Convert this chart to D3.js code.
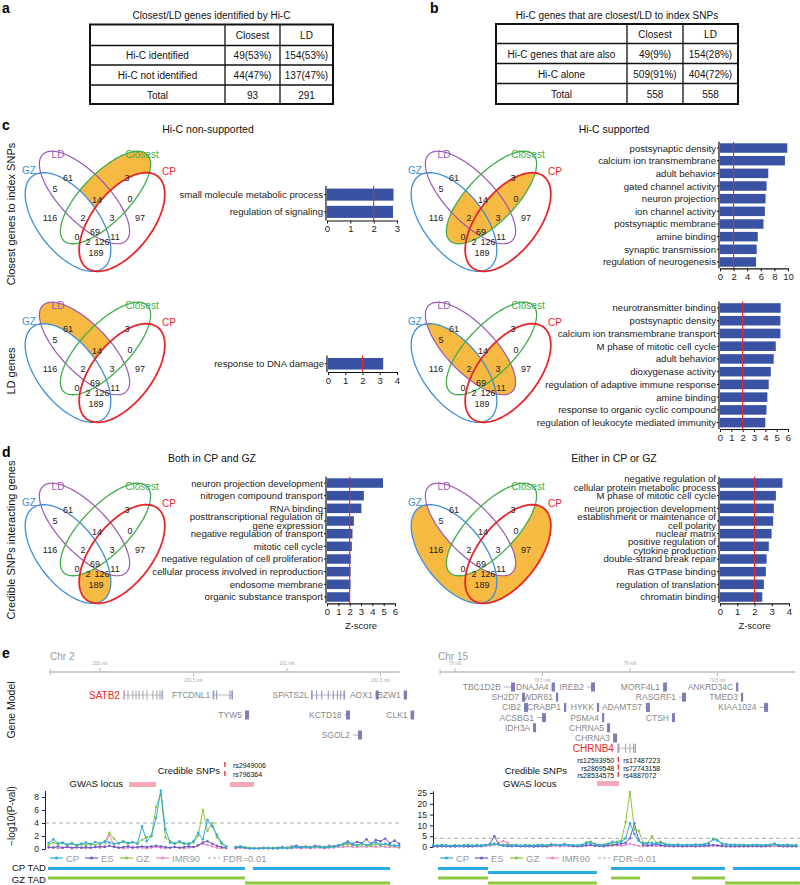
<!DOCTYPE html>
<html><head><meta charset="utf-8">
<script src="https://cdn.jsdelivr.net/npm/d3@7/dist/d3.min.js"></script>
<style>
html,body{margin:0;padding:0;background:#fff;}
svg text{font-family:"Liberation Sans",Arial,Helvetica,sans-serif;}
</style></head><body>
<svg id="fig" width="800" height="885" xmlns="http://www.w3.org/2000/svg"></svg>
<script>
// ================= DATA =================
const tableATitle = "Closest/LD genes identified by Hi-C";
const tableAHeader = ["", "Closest", "LD"];
const tableARows = [["Hi-C identified","49(53%)","154(53%)"],["Hi-C not identified","44(47%)","137(47%)"],["Total","93","291"]];
const tableBTitle = "Hi-C genes that are closest/LD to index SNPs";
const tableBHeader = ["", "Closest", "LD"];
const tableBRows = [["Hi-C genes that are also","49(9%)","154(28%)"],["Hi-C alone","509(91%)","404(72%)"],["Total","558","558"]];

const vennSetNames = ["GZ","LD","Closest","CP"];
const vennCounts = [116,61,3,97,5,14,0,0,2,3,69,2,126,11,189];
// regions: GZ, LD, Closest, CP, GZ&LD, LD&Cl, Cl&CP, GZ&Cl, GZ&LD&Cl, LD&Cl&CP, all, GZ&Cl&CP, GZ&LD&CP, LD&CP, GZ&CP

const barC1Labels = ["small molecule metabolic process","regulation of signaling"];
const barC1Values = [2.85, 2.83];
const barC2Labels = ["postsynaptic density","calcium ion transmembrane","adult behavior","gated channel activity","neuron projection","ion channel activity","postsynaptic membrane","amine binding","synaptic transmission","regulation of neurogenesis"];
const barC2Values = [9.9,9.55,7.1,6.85,6.7,6.6,6.4,5.55,5.4,5.3];
const barC3Labels = ["response to DNA damage"];
const barC3Values = [3.2];
const barC4Labels = ["neurotransmitter binding","postsynaptic density","calcium ion transmembrane transport","M phase of mitotic cell cycle","adult behavior","dioxygenase activity","regulation of adaptive immune response","amine binding","response to organic cyclic compound","regulation of leukocyte mediated immunity"];
const barC4Values = [5.35,5.33,5.33,4.92,4.74,4.48,4.3,4.18,4.1,4.0];
const barD1Labels = ["neuron projection development","nitrogen compound transport","RNA binding","posttranscriptional regulation of\ngene expression","negative regulation of transport","mitotic cell cycle","negative regulation of cell proliferation","cellular process involved in reproduction","endosome membrane","organic substance transport"];
const barD1Values = [4.94,3.25,3.04,2.37,2.25,2.19,2.1,2.08,2.08,2.02];
const barD2Labels = ["negative regulation of\ncellular protein metabolic process","M phase of mitotic cell cycle","neuron projection development","establishment or maintenance of\ncell polarity","nuclear matrix","positive regulation of\ncytokine production","double-strand break repair","Ras GTPase binding","regulation of translation","chromatin binding"];
const barD2Values = [3.62,3.24,3.12,3.08,2.99,2.83,2.7,2.66,2.54,2.45];
const zThreshold = 2;

// Panel e, left locus (chr2, Mb)
const leftGenes = ["SATB2","FTCDNL1","TYW5","SPATS2L","AOX1","BZW1","KCTD18","CLK1","SGOL2"];
const leftGeneStart = [200.128,200.606,200.775,201.132,201.474,201.624,201.308,201.661,201.353];
const leftGeneEnd   = [200.332,200.706,200.797,201.305,201.49,201.642,201.337,201.68,201.401];
const leftGeneRow   = [0,0,1,0,0,0,1,1,2];
const rightGenes = ["TBC1D2B","DNAJA4","IREB2","MORF4L1","ANKRD34C","SH2D7","WDR61","RASGRF1","TMED3","CIB2","CRABP1","HYKK","ADAMTS7","KIAA1024","ACSBG1","PSMA4","CTSH","IDH3A","CHRNA5","CHRNA3","CHRNB4"];
const rightGeneStart = [78.28,78.552,78.754,79.189,79.606,78.383,78.577,79.28,79.634,78.394,78.623,78.811,79.086,79.74,78.469,78.84,79.24,78.446,78.869,78.903,78.931];
const rightGeneEnd   = [78.343,78.571,78.8,79.211,79.617,78.4,78.589,79.32,79.646,78.417,78.634,78.823,79.114,79.789,78.52,78.851,79.257,78.463,78.886,78.926,79.029];
const rightGeneRow   = [0,0,0,0,0,1,1,1,1,2,2,2,2,2,3,3,3,4,4,5,6];
const highlightGenes = ["SATB2","CHRNB4"];
const geneExons = {
  SATB2:[200.128,200.15,200.176,200.193,200.209,200.23,200.251,200.283,200.305,200.321,200.332],
  FTCDNL1:[200.606,200.624,200.695,200.706],
  SPATS2L:[201.132,201.159,201.186,201.221,201.248,201.27,201.287,201.305],
  CHRNB4:[78.931,78.937,78.975,79.0,79.02,79.029]
};
const leftRulerMajor = [200,201], leftRulerMajorLabels = ["200 mb","201 mb"];
const leftRulerMinor = [200.5,201.5], leftRulerMinorLabels = ["200.5 mb","201.5 mb"];
const rightRulerMajor = [78,79], rightRulerMajorLabels = ["78 mb","79 mb"];
const rightRulerMinor = [78.5,79.5], rightRulerMinorLabels = ["78.5 mb","79.5 mb"];

const leftSNPs = ["rs2949006","rs796364"];
const leftSNPPos = 200.668;
const rightSNPsA = ["rs12593950","rs2869548","rs28534575"];
const rightSNPsB = ["rs17487223","rs72743158","rs4887072"];
const rightSNPPos = 78.933;
const leftGWASStart = [200.155,200.695], leftGWASEnd = [200.299,200.824];
const rightGWASStart = [78.811], rightGWASEnd = [78.937];

const seriesNames = ["CP","ES","GZ","IMR90"];
const fdrLevel = 4;
const leftBinStart = 199.725, leftBinSize = 0.025;
const leftCP = [0.9,1.5,0.9,1.0,0.7,0.9,0.6,0.8,1.0,0.7,1.1,0.8,1.2,1.0,0.8,0.9,1.2,0.9,1.1,0.8,3.5,1.2,2.0,4.8,9.0,3.0,1.0,0.8,1.2,0.9,0.7,1.2,2.5,1.5,4.5,3.5,2.2,1.0,0.4,null,
  0.3,0.4,0.2,0.1,0.1,0.1,0.1,0.2,0.1,0.1,0.2,0.1,0.2,0.3,0.2,0.3,0.2,0.4,0.3,0.2,0.3,0.4,0.5,0.8,1.2,0.7,0.6,0.9,0.6,0.8,1.0,0.7,0.8,0.6,0.5,0.5];
const leftES = [0.3,0.2,0.4,0.2,0.3,0.2,0.3,0.2,0.3,0.2,0.3,0.4,0.3,0.5,0.3,0.2,0.3,0.4,0.2,0.3,0.4,0.3,0.4,0.5,0.4,0.3,0.2,0.3,0.2,0.3,0.4,0.3,0.6,1.0,1.2,0.8,0.5,0.3,0.2,null,
  0.2,0.3,0.2,0.1,0.1,0.1,0.2,0.1,0.1,0.2,0.3,0.2,0.4,0.5,0.3,0.4,0.3,0.5,0.4,0.3,0.5,0.4,0.6,0.7,1.0,0.8,1.1,0.9,1.5,0.8,1.4,1.2,1.6,0.9,1.3,0.8];
const leftGZ = [0.6,1.0,0.7,0.9,0.6,0.8,0.5,0.7,0.6,0.8,0.6,0.9,1.0,2.5,1.6,0.9,1.1,0.8,1.0,0.9,1.4,1.8,2.0,6.5,8.5,1.8,1.2,0.9,1.0,0.8,0.9,1.0,2.0,6.0,2.8,4.0,1.8,0.8,0.3,null,
  0.3,0.4,0.3,0.2,0.1,0.1,0.2,0.1,0.2,0.1,0.2,0.2,0.3,0.3,0.2,0.4,0.3,0.3,0.4,0.3,0.4,0.3,0.5,0.6,0.7,0.6,0.5,0.7,0.6,0.5,0.7,0.6,0.7,0.5,0.6,0.4];
const leftIMR90 = [0.2,0.3,0.1,0.2,0.3,0.1,0.2,0.2,0.1,0.2,0.3,0.2,0.4,2.2,0.5,0.2,0.1,0.2,0.3,0.2,0.2,0.1,0.2,0.3,0.2,0.1,0.2,0.3,0.2,0.1,0.2,0.3,0.5,0.8,0.6,0.4,0.2,0.1,0.1,null,
  0.1,0.2,0.1,0.1,0.1,0.1,0.1,0.1,0.1,0.1,0.1,0.2,0.1,0.2,0.1,0.2,0.1,0.2,0.2,0.1,0.2,0.2,0.3,0.3,0.4,0.3,0.3,0.4,0.3,0.4,0.3,0.4,0.3,0.3,0.3,0.2];
const rightBinStart = 77.875, rightBinSize = 0.025;
const rightCP = [0.8,0.6,0.9,0.7,0.5,0.8,0.6,0.7,0.9,0.6,0.8,0.7,1.0,1.2,1.5,1.2,0.9,0.8,0.7,0.9,0.6,0.8,0.7,0.6,0.8,0.9,0.7,1.2,1.0,0.8,1.3,0.9,0.8,0.7,0.9,1.8,2.0,1.2,0.9,1.0,1.5,2.5,2.0,2.5,4.0,11.0,6.0,3.0,1.5,1.8,2.0,1.5,2.0,1.2,1.0,0.9,1.1,0.8,1.0,0.9,1.2,1.0,1.3,1.8,3.5,3.0,1.5,1.2,1.0,1.1,0.9,1.0,0.8,0.9,1.0,0.8,0.9,1.1,1.6,0.9,0.8,1.0,0.7,0.8];
const rightES = [0.3,0.2,0.4,0.3,0.2,0.3,0.4,0.3,0.2,0.3,0.5,0.4,0.8,1.5,5.0,1.0,0.6,0.4,0.3,0.5,0.3,0.4,0.3,0.2,0.3,0.4,0.3,0.8,1.0,0.6,1.2,0.8,0.4,0.3,0.5,0.8,1.0,0.6,0.5,0.4,0.8,1.0,1.2,1.5,2.0,4.0,11.0,3.0,1.0,0.8,0.9,1.2,0.8,0.6,0.5,0.4,0.5,0.3,0.4,0.5,0.4,0.5,0.6,0.8,1.0,0.7,0.5,0.4,0.3,0.4,0.3,0.4,0.3,0.5,0.4,0.3,0.4,0.6,1.2,0.5,0.4,0.3,0.4,0.3];
const rightGZ = [0.9,0.7,1.0,0.8,0.6,0.9,0.7,0.8,1.0,0.7,0.9,0.8,1.0,1.1,1.3,1.0,0.9,1.0,0.8,0.9,0.7,0.9,0.8,0.7,0.9,1.0,0.8,1.3,1.1,0.9,1.4,1.0,0.9,0.8,1.0,2.2,2.5,1.5,1.0,1.2,1.5,1.5,2.5,3.0,11.5,25.5,8.0,7.5,2.0,1.8,5.0,2.0,2.5,1.5,1.2,1.0,1.3,0.9,1.1,1.0,1.2,1.1,1.4,2.0,3.8,3.2,1.6,1.3,1.1,1.0,1.0,1.1,0.9,1.0,1.1,0.9,1.0,1.0,1.3,1.0,0.9,1.1,0.8,0.9];
const rightIMR90 = [0.3,0.2,0.3,0.2,0.3,0.2,0.3,0.2,0.3,0.2,0.3,0.4,0.5,0.6,1.0,2.0,2.8,2.0,0.8,0.5,0.3,0.4,0.3,0.2,0.3,0.3,0.2,0.5,0.6,0.4,0.5,0.4,0.3,0.3,0.4,0.6,0.8,0.5,0.4,0.3,0.5,0.6,0.8,0.5,1.0,1.5,1.0,0.5,0.3,0.4,0.5,0.4,0.5,0.3,0.3,0.2,0.3,0.2,0.3,0.3,0.2,0.3,0.3,0.4,0.6,0.5,0.3,0.2,0.3,0.2,0.3,0.2,0.3,0.2,0.3,0.2,0.3,0.3,0.4,0.3,0.2,0.3,0.2,0.3];
const leftYTicks = [0,2,4,6,8], rightYTicks = [0,5,10,15,20,25];

const leftCPTadStart=[199.722,200.818], leftCPTadEnd=[200.775,201.551], leftCPTadRow=[0,0];
const leftGZTadStart=[199.722,200.775], leftGZTadEnd=[200.775,201.551], leftGZTadRow=[0,1];
const rightCPTadStart=[77.903,78.189,78.891,79.589], rightCPTadEnd=[78.189,78.811,79.543,79.971], rightCPTadRow=[0,1,0,0];
const rightGZTadStart=[77.903,78.189,78.891,79.354,79.543], rightGZTadEnd=[78.189,78.811,79.057,79.543,79.971], rightGZTadRow=[0,1,0,0,1];

// ================= STYLE / LAYOUT =================
const ORANGE = "#f6b942", BARBLUE = "#3a52a3", RED = "#e8262a";
const C = {GZ:"#3d8fd5", LD:"#9a58b8", Closest:"#43ad4b", CP:"#e8262a"};
const SER = {CP:"#2aaae2", ES:"#6c5cc4", GZ:"#8cc63f", IMR90:"#e88fc6"};
const svg = d3.select("#fig");
const defs = svg.append("defs");
const LABEL_FONT = 9.6;

function txt(p, x, y, s, o={}) {
  const t = p.append("text").attr("x",x).attr("y",y).text(s)
    .attr("font-size", o.size||10).attr("fill", o.fill||"#222")
    .attr("text-anchor", o.anchor||"start");
  if (o.weight) t.attr("font-weight", o.weight);
  if (o.rotate!=null) t.attr("transform", `rotate(${o.rotate},${x},${y})`);
  if (o.baseline) t.attr("dominant-baseline", o.baseline);
  return t;
}

// panel letters
[["a",2,13],["b",430,13],["c",2,130],["d",2,457],["e",2,658]].forEach(d=>txt(svg,d[1],d[2],d[0],{size:14,weight:"bold",fill:"#000"}));

// ================= TABLES =================
function drawTable(cols, rows, header, body, title, titleY){
  const g = svg.append("g");
  txt(g,(cols[0]+cols[cols.length-1])/2,titleY,title,{size:10,anchor:"middle",fill:"#111"});
  [header,...body].forEach((r,i)=>r.forEach((c,j)=>{
    txt(g,(cols[j]+cols[j+1])/2,(rows[i]+rows[i+1])/2+0.5,c,{size:10,anchor:"middle",baseline:"central",fill:"#111"});
  }));
  rows.slice(1,-1).forEach(y=>g.append("line").attr("x1",cols[0]).attr("x2",cols[3]).attr("y1",y).attr("y2",y).attr("stroke","#111").attr("stroke-width",1.3));
  cols.slice(1,-1).forEach(x=>g.append("line").attr("x1",x).attr("x2",x).attr("y1",rows[0]).attr("y2",rows[4]).attr("stroke","#111").attr("stroke-width",1.3));
  g.append("rect").attr("x",cols[0]).attr("y",rows[0]).attr("width",cols[3]-cols[0]).attr("height",rows[4]-rows[0]).attr("fill","none").attr("stroke","#111").attr("stroke-width",2);
}
drawTable([90,225,280,333],[24.5,45.5,65,85,104],tableAHeader,tableARows,tableATitle,18.5);
drawTable([496,627,683,738],[24,43.5,63.5,83.5,104],tableBHeader,tableBRows,tableBTitle,18.5);

// ================= VENN =================
const vennEllipses = [
  {cx:68,   cy:222,   a:58, b:30, rot:52,  color:C.GZ,      w:1.3},
  {cx:84.5, cy:197.5, a:60, b:24, rot:46,  color:C.LD,      w:1.2},
  {cx:105.5,cy:197.5, a:60, b:24, rot:-46, color:C.Closest, w:1.3},
  {cx:122,  cy:222,   a:58, b:30, rot:-52, color:C.CP,      w:1.8}
];
const vennCountPos = [[50,218],[68,178],[127,178],[140,218],[55,189],[97,200],[130,199],[77,237],[83,218],[112,218],[95,232],[88,242],[102,242],[115,237],[96,253]];
const vennNamePos = [[29,170],[58,154],[142,154],[169,171]];
const vennPanels = [
  {ox:0, oy:0, fill:[2], clip:null, exclude:[0,3]},
  {ox:386, oy:0, fill:[0,3], clip:2, exclude:[]},
  {ox:0, oy:151, fill:[1], clip:null, exclude:[0,3]},
  {ox:386, oy:151, fill:[0,3], clip:1, exclude:[]},
  {ox:0, oy:332, fill:[0], clip:3, exclude:[1,2]},
  {ox:386, oy:332, fill:[0,3], clip:null, exclude:[1,2]}
];
function ellipsePoints(e){
  const pts=[], th=e.rot*Math.PI/180;
  for(let k=0;k<160;k++){const t=2*Math.PI*k/160, ca=e.a*Math.cos(t), sb=e.b*Math.sin(t);
    pts.push([e.cx+ca*Math.cos(th)-sb*Math.sin(th), e.cy+ca*Math.sin(th)+sb*Math.cos(th)]);}
  return pts;
}
vennPanels.forEach((p,pi)=>{
  const vx = d3.scaleLinear().domain([0,200]).range([p.ox,p.ox+200]);
  const vy = d3.scaleLinear().domain([0,300]).range([p.oy,p.oy+300]);
  const line = d3.line().x(d=>vx(d[0])).y(d=>vy(d[1])).curve(d3.curveLinearClosed);
  const paths = vennEllipses.map(e=>line(ellipsePoints(e)));
  const g = svg.append("g");
  let fg = g.append("g");
  if(p.exclude.length){
    const m = defs.append("mask").attr("id","vm"+pi).attr("maskUnits","userSpaceOnUse").attr("x",0).attr("y",0).attr("width",800).attr("height",885);
    m.append("rect").attr("width",800).attr("height",885).attr("fill","#fff");
    p.exclude.forEach(k=>m.append("path").attr("d",paths[k]).attr("fill","#000"));
    fg.attr("mask",`url(#vm${pi})`);
  }
  if(p.clip!=null){
    defs.append("clipPath").attr("id","vc"+pi).append("path").attr("d",paths[p.clip]);
    fg = fg.append("g").attr("clip-path",`url(#vc${pi})`);
  }
  p.fill.forEach(k=>fg.append("path").attr("d",paths[k]).attr("fill",ORANGE));
  vennEllipses.forEach((e,k)=>g.append("path").attr("d",paths[k]).attr("fill","none").attr("stroke",e.color).attr("stroke-width",e.w));
  vennCounts.forEach((c,k)=>txt(g,vx(vennCountPos[k][0]),vy(vennCountPos[k][1]),String(c),{size:9,anchor:"middle",baseline:"central",fill:"#222"}));
  vennSetNames.forEach((n,k)=>txt(g,vx(vennNamePos[k][0]),vy(vennNamePos[k][1]),n,{size:10,anchor:"middle",baseline:"central",fill:vennEllipses[k].color}));
});

// row titles
txt(svg,15,214,"Closest genes to index SNPs",{size:11,anchor:"middle",rotate:-90,fill:"#111"});
txt(svg,15,371,"LD genes",{size:11,anchor:"middle",rotate:-90,fill:"#111"});
txt(svg,15,540,"Credible SNPs interacting genes",{size:11,anchor:"middle",rotate:-90,fill:"#111"});
txt(svg,208,133,"Hi-C non-supported",{size:10.5,anchor:"middle",fill:"#111"});
txt(svg,614,133,"Hi-C supported",{size:10.5,anchor:"middle",fill:"#111"});
txt(svg,212,462,"Both in CP and GZ",{size:10.5,anchor:"middle",fill:"#111"});
txt(svg,614,462,"Either in CP or GZ",{size:10.5,anchor:"middle",fill:"#111"});

// ================= BAR CHARTS =================
function drawBars(o){
  const g = svg.append("g");
  const x = d3.scaleLinear().domain([0,o.max]).range([o.x0,o.x1]);
  const y = d3.scaleBand().domain(o.labels).range([o.y0,o.y1]).paddingInner(o.pi).paddingOuter(o.po);
  g.selectAll("rect.bar").data(o.labels).join("rect").attr("class","bar")
    .attr("x",x(0)).attr("y",d=>y(d)).attr("height",y.bandwidth())
    .attr("width",(d,i)=>x(o.values[i])-x(0)).attr("fill",BARBLUE);
  g.append("line").attr("x1",x(zThreshold)).attr("x2",x(zThreshold)).attr("y1",o.y0).attr("y2",o.y1).attr("stroke",RED).attr("stroke-width",1.1);
  const ya = g.append("g").attr("transform",`translate(${x(0)-1},0)`).call(d3.axisLeft(y).tickSize(2).tickSizeOuter(0).tickFormat(""));
  ya.select(".domain").attr("stroke","#111").attr("stroke-width",1.2).attr("d",`M-0,${o.y0}V${o.y1}`);
  ya.selectAll(".tick line").attr("stroke","#111");
  const xa = g.append("g").attr("transform",`translate(0,${o.y1})`).call(d3.axisBottom(x).tickValues(o.ticks).tickSize(3).tickSizeOuter(0).tickFormat(d3.format("d")));
  xa.select(".domain").attr("stroke","#111").attr("stroke-width",1.2);
  xa.selectAll(".tick line").attr("stroke","#111");
  xa.selectAll(".tick text").attr("font-size",9.5).attr("fill","#222").attr("font-family","Liberation Sans, Arial, sans-serif").attr("dy","0.6em");
  o.labels.forEach(l=>{
    const lines = l.split("\n"), cy = y(l)+y.bandwidth()/2;
    lines.forEach((s,k)=>{
      const dy = lines.length===1?0:(k===0?-4.6:4.2);
      txt(g,x(0)-4,cy+dy,s,{size:LABEL_FONT,anchor:"end",baseline:"central",fill:"#222"});
    });
  });
  if(o.xlabel) txt(g,(x(0)+x(o.max))/2,629,o.xlabel,{size:9.5,anchor:"middle",fill:"#222"});
}
drawBars({labels:barC1Labels,values:barC1Values,max:3,ticks:[0,1,2,3],x0:327,x1:397,y0:186,y1:220.5,pi:0.3,po:0.15});
drawBars({labels:barC2Labels,values:barC2Values,max:10,ticks:[0,2,4,6,8,10],x0:720,x1:788,y0:141.7,y1:268.3,pi:0.25,po:0.125});
drawBars({labels:barC3Labels,values:barC3Values,max:4,ticks:[0,1,2,3,4],x0:328,x1:397,y0:355.5,y1:372,pi:0.3,po:0.15});
drawBars({labels:barC4Labels,values:barC4Values,max:6,ticks:[0,1,2,3,4,5,6],x0:720,x1:788,y0:301.6,y1:429,pi:0.25,po:0.125});
drawBars({labels:barD1Labels,values:barD1Values,max:6,ticks:[0,1,2,3,4,5,6],x0:327,x1:395,y0:476.7,y1:603.3,pi:0.25,po:0.125,xlabel:"Z-score"});
drawBars({labels:barD2Labels,values:barD2Values,max:4,ticks:[0,1,2,3,4],x0:720,x1:789,y0:476.7,y1:603.3,pi:0.25,po:0.125,xlabel:"Z-score"});

// ================= PANEL e =================
const xL = d3.scaleLinear().domain([200,201]).range([100,287]);
const xR = d3.scaleLinear().domain([78,79]).range([455,630]);
txt(svg,50,660,"Chr 2",{size:10,fill:"#999"});
txt(svg,438,660,"Chr 15",{size:10,fill:"#999"});
txt(svg,15,710,"Gene Model",{size:10.5,anchor:"middle",rotate:-90,fill:"#222"});
txt(svg,15,816,"\u2212log10(P-val)",{size:10,anchor:"middle",rotate:-90,fill:"#222"});

function ruler(x, x0, x1, maj, majL, mins, minL){
  const g = svg.append("g");
  g.append("line").attr("x1",x0).attr("x2",x1).attr("y1",672).attr("y2",672).attr("stroke","#bbb").attr("stroke-width",1.6);
  g.append("line").attr("x1",x0).attr("x2",x0).attr("y1",669).attr("y2",675).attr("stroke","#bbb");
  maj.forEach((m,i)=>{g.append("line").attr("x1",x(m)).attr("x2",x(m)).attr("y1",668).attr("y2",672).attr("stroke","#bbb");
    txt(g,x(m),665,majL[i],{size:4.5,anchor:"middle",fill:"#aaa"});});
  mins.forEach((m,i)=>{g.append("line").attr("x1",x(m)).attr("x2",x(m)).attr("y1",672).attr("y2",676).attr("stroke","#bbb");
    txt(g,x(m),682,minL[i],{size:4.5,anchor:"middle",fill:"#aaa"});});
}
ruler(xL,50,400,leftRulerMajor,leftRulerMajorLabels,leftRulerMinor,leftRulerMinorLabels);
ruler(xR,440,795,rightRulerMajor,rightRulerMajorLabels,rightRulerMinor,rightRulerMinorLabels);

function genes(x, names, st, en, rows, rowY){
  const g = svg.append("g");
  names.forEach((n,i)=>{
    const y = rowY(rows[i]), a = x(st[i]), b = x(en[i]);
    const hl = highlightGenes.includes(n);
    const col = hl ? "#a9a9b8" : "#7f7db6";
    if (geneExons[n]) {
      g.append("line").attr("x1",a).attr("x2",b).attr("y1",y).attr("y2",y).attr("stroke","#aaa").attr("stroke-width",0.8);
      geneExons[n].forEach((e,k)=>g.append("rect").attr("x",x(e)-0.6).attr("y",y-4.5).attr("width",k===geneExons[n].length-1||k===0?1.6:1.1).attr("height",9).attr("fill",hl?"#a8a8b4":"#9593c0"));
    } else {
      g.append("line").attr("x1",a).attr("x2",b).attr("y1",y).attr("y2",y).attr("stroke","#9a98c6").attr("stroke-width",0.8);
      g.append("rect").attr("x",Math.max(a,b-4)).attr("y",y-4.5).attr("width",Math.max(2.2,Math.min(4,b-a))).attr("height",9).attr("fill",col);
    }
    txt(g,a-(hl?4:3),y,n,{size:hl?10:8.5,anchor:"end",baseline:"central",fill:hl?RED:"#888"});
  });
}
genes(xL,leftGenes,leftGeneStart,leftGeneEnd,leftGeneRow,d3.scaleLinear().domain([0,1]).range([695,715]));
genes(xR,rightGenes,rightGeneStart,rightGeneEnd,rightGeneRow,d3.scaleLinear().domain([0,1]).range([687,697.2]));

// credible SNPs and GWAS
txt(svg,220,774,"Credible SNPs",{size:9.5,anchor:"end",fill:"#111"});
svg.append("line").attr("x1",xL(leftSNPPos)).attr("x2",xL(leftSNPPos)).attr("y1",762).attr("y2",767).attr("stroke",RED).attr("stroke-width",1.3);
svg.append("line").attr("x1",xL(leftSNPPos)).attr("x2",xL(leftSNPPos)).attr("y1",771).attr("y2",776).attr("stroke",RED).attr("stroke-width",1.3);
leftSNPs.forEach((s,i)=>txt(svg,xL(leftSNPPos)+8,768+i*8.5,s,{size:7,fill:"#111"}));
txt(svg,123,787,"GWAS locus",{size:9.5,anchor:"end",fill:"#111"});
leftGWASStart.forEach((s,i)=>svg.append("rect").attr("x",xL(s)).attr("y",782).attr("width",xL(leftGWASEnd[i])-xL(s)).attr("height",5).attr("fill","#f4a8b8"));

txt(svg,567,774,"Credible SNPs",{size:9.5,anchor:"end",fill:"#111"});
rightSNPsA.forEach((s,i)=>{
  txt(svg,xR(rightSNPPos)-4,763+i*7.5,s,{size:7,anchor:"end",fill:"#111"});
  txt(svg,xR(rightSNPPos)+5,763+i*7.5,rightSNPsB[i],{size:7,fill:"#111"});
  svg.append("line").attr("x1",xR(rightSNPPos)).attr("x2",xR(rightSNPPos)).attr("y1",757+i*7.5).attr("y2",762+i*7.5).attr("stroke",RED).attr("stroke-width",1.3);
});
txt(svg,503,787,"GWAS locus",{size:9.5,fill:"#111"});
rightGWASStart.forEach((s,i)=>svg.append("rect").attr("x",xR(s)).attr("y",781).attr("width",xR(rightGWASEnd[i])-xR(s)).attr("height",5).attr("fill","#f4a8b8"));

// line charts
function lineChart(x, binStart, binSize, series, yMax, yTicks, yTop, yBot, axX, xEnd){
  const g = svg.append("g");
  const y = d3.scaleLinear().domain([0,yMax]).range([yBot,yTop]);
  g.append("line").attr("x1",axX).attr("x2",xEnd).attr("y1",y(fdrLevel)).attr("y2",y(fdrLevel)).attr("stroke","#aaa").attr("stroke-width",1).attr("stroke-dasharray","4,3");
  const ya = g.append("g").attr("transform",`translate(${axX},0)`).call(d3.axisLeft(y).tickValues(yTicks).tickSize(3).tickSizeOuter(0));
  ya.select(".domain").attr("stroke","#222");
  ya.selectAll(".tick line").attr("stroke","#222");
  ya.selectAll(".tick text").attr("font-size",8.5).attr("fill","#222").attr("font-family","Liberation Sans, Arial, sans-serif");
  ["IMR90","ES","GZ","CP"].forEach(name=>{
    const vals = series[name];
    const pts = vals.map((v,i)=>({x:x(binStart+i*binSize), v}));
    const ln = d3.line().defined(d=>d.v!=null).x(d=>d.x).y(d=>y(d.v));
    g.append("path").attr("d",ln(pts)).attr("fill","none").attr("stroke",SER[name]).attr("stroke-width",1);
    g.selectAll(null).data(pts.filter(d=>d.v!=null)).join("circle").attr("cx",d=>d.x).attr("cy",d=>y(d.v)).attr("r",1.2).attr("fill",SER[name]);
  });
}
lineChart(xL,leftBinStart,leftBinSize,{CP:leftCP,ES:leftES,GZ:leftGZ,IMR90:leftIMR90},9,leftYTicks,790.5,849,45,400);
lineChart(xR,rightBinStart,rightBinSize,{CP:rightCP,ES:rightES,GZ:rightGZ,IMR90:rightIMR90},26,rightYTicks,790.8,847,433,800);

// legends
function legend(x0){
  const offs = [0,35,70,106,158];
  const names = [...seriesNames,"FDR=0.01"];
  names.forEach((n,i)=>{
    const gx = x0+offs[i];
    if(i<4){
      svg.append("line").attr("x1",gx).attr("x2",gx+13).attr("y1",858).attr("y2",858).attr("stroke",SER[n]).attr("stroke-width",1.2);
      svg.append("circle").attr("cx",gx+6.5).attr("cy",858).attr("r",1.6).attr("fill",SER[n]);
    } else {
      svg.append("line").attr("x1",gx).attr("x2",gx+12).attr("y1",858).attr("y2",858).attr("stroke","#aaa").attr("stroke-dasharray","3,2");
    }
    txt(svg,gx+(i<4?16:15),858,n,{size:9.5,baseline:"central",fill:"#999"});
  });
}
legend(50); legend(440);

// TADs
txt(svg,46,871,"CP TAD",{size:9.6,anchor:"end",fill:"#111"});
txt(svg,46,882.5,"GZ TAD",{size:9.6,anchor:"end",fill:"#111"});
function tads(x, st, en, rows, y0, y1, col, w){
  st.forEach((s,i)=>svg.append("line").attr("x1",x(s)).attr("x2",x(en[i])).attr("y1",rows[i]?y1:y0).attr("y2",rows[i]?y1:y0).attr("stroke",col).attr("stroke-width",w));
}
tads(xL,leftCPTadStart,leftCPTadEnd,leftCPTadRow,868.5,872.5,SER.CP,3.2);
tads(xL,leftGZTadStart,leftGZTadEnd,leftGZTadRow,878,883,SER.GZ,2.8);
tads(xR,rightCPTadStart,rightCPTadEnd,rightCPTadRow,868.5,872.5,SER.CP,3.2);
tads(xR,rightGZTadStart,rightGZTadEnd,rightGZTadRow,878,883,SER.GZ,2.8);
</script></body></html>
